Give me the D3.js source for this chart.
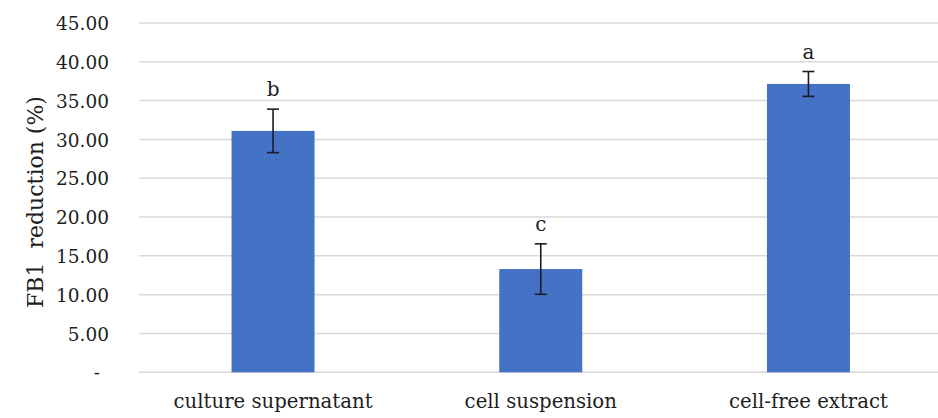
<!DOCTYPE html>
<html><head><meta charset="utf-8">
<script src="https://cdn.jsdelivr.net/npm/d3@7"></script>
<style>body{margin:0;background:#fff;} svg{display:block;}</style>
</head><body>
<svg id="c" width="938" height="418"></svg>
<script>
const categories = ["culture supernatant", "cell suspension", "cell-free extract"];
const values = [31.1, 13.3, 37.15];
const errors = [2.8, 3.25, 1.6];
const letters = ["b", "c", "a"];
const yTicks = [0, 5, 10, 15, 20, 25, 30, 35, 40, 45];
const yTitle = "FB1\u00a0 reduction (%)";

const svg = d3.select("#c");
const font = "DejaVu Serif";
const pLeft = 139.2, pRight = 942.3, pTop = 23, pBottom = 372.3;

const x = d3.scaleBand().domain(categories).range([pLeft, pRight]).paddingInner(0.69).paddingOuter(0.345);
const y = d3.scaleLinear().domain([0, 45]).range([pBottom, pTop]);

// gridlines
svg.append("g").selectAll("line").data(yTicks).join("line")
  .attr("x1", pLeft).attr("x2", pRight)
  .attr("y1", d => y(d)).attr("y2", d => y(d))
  .attr("stroke", "#d9d9d9").attr("stroke-width", 1.5);

// y axis labels
const yAxis = d3.axisLeft(y).tickValues(yTicks).tickSize(0).tickPadding(0)
  .tickFormat(d => d === 0 ? "-" : d3.format(".2f")(d));
const ya = svg.append("g").attr("transform", `translate(${109},0)`).call(yAxis);
ya.select(".domain").remove();
ya.selectAll("text").attr("font-family", font).attr("font-size", 18.5).attr("fill", "#1e1e1e")
  .attr("dy", "0.36em")
  .attr("dx", d => d === 0 ? -9 : 0);

// x axis labels
const xAxis = d3.axisBottom(x).tickSize(0).tickPadding(0);
const xa = svg.append("g").attr("transform", `translate(0,${pBottom})`).call(xAxis);
xa.select(".domain").remove();
xa.selectAll("text").attr("font-family", font).attr("font-size", 19.7).attr("fill", "#1e1e1e")
  .attr("y", 36).attr("dy", 0);

// bars
svg.append("g").selectAll("rect").data(categories).join("rect")
  .attr("x", d => x(d)).attr("width", x.bandwidth())
  .attr("y", (d, i) => y(values[i])).attr("height", (d, i) => y(0) - y(values[i]))
  .attr("fill", "#4472c4");

// error bars
const eb = svg.append("g").attr("stroke", "#1b1b2a").attr("stroke-width", 1.6);
categories.forEach((c, i) => {
  const cx = x(c) + x.bandwidth() / 2;
  const y1 = y(values[i] + errors[i]), y2 = y(values[i] - errors[i]);
  eb.append("line").attr("x1", cx).attr("x2", cx).attr("y1", y1).attr("y2", y2);
  eb.append("line").attr("x1", cx - 6).attr("x2", cx + 6).attr("y1", y1).attr("y2", y1);
  eb.append("line").attr("x1", cx - 6).attr("x2", cx + 6).attr("y1", y2).attr("y2", y2);
});

// letters
svg.append("g").selectAll("text").data(categories).join("text")
  .attr("x", d => x(d) + x.bandwidth() / 2)
  .attr("y", (d, i) => y(values[i] + errors[i]) - 13)
  .attr("text-anchor", "middle").attr("font-family", font).attr("font-size", 20).attr("fill", "#1e1e1e")
  .text((d, i) => letters[i]);

// y title
svg.append("text")
  .attr("transform", `translate(43,202) rotate(-90)`)
  .attr("text-anchor", "middle").attr("font-family", font).attr("font-size", 22).attr("fill", "#1e1e1e")
  .text(yTitle);
</script>
</body></html>
